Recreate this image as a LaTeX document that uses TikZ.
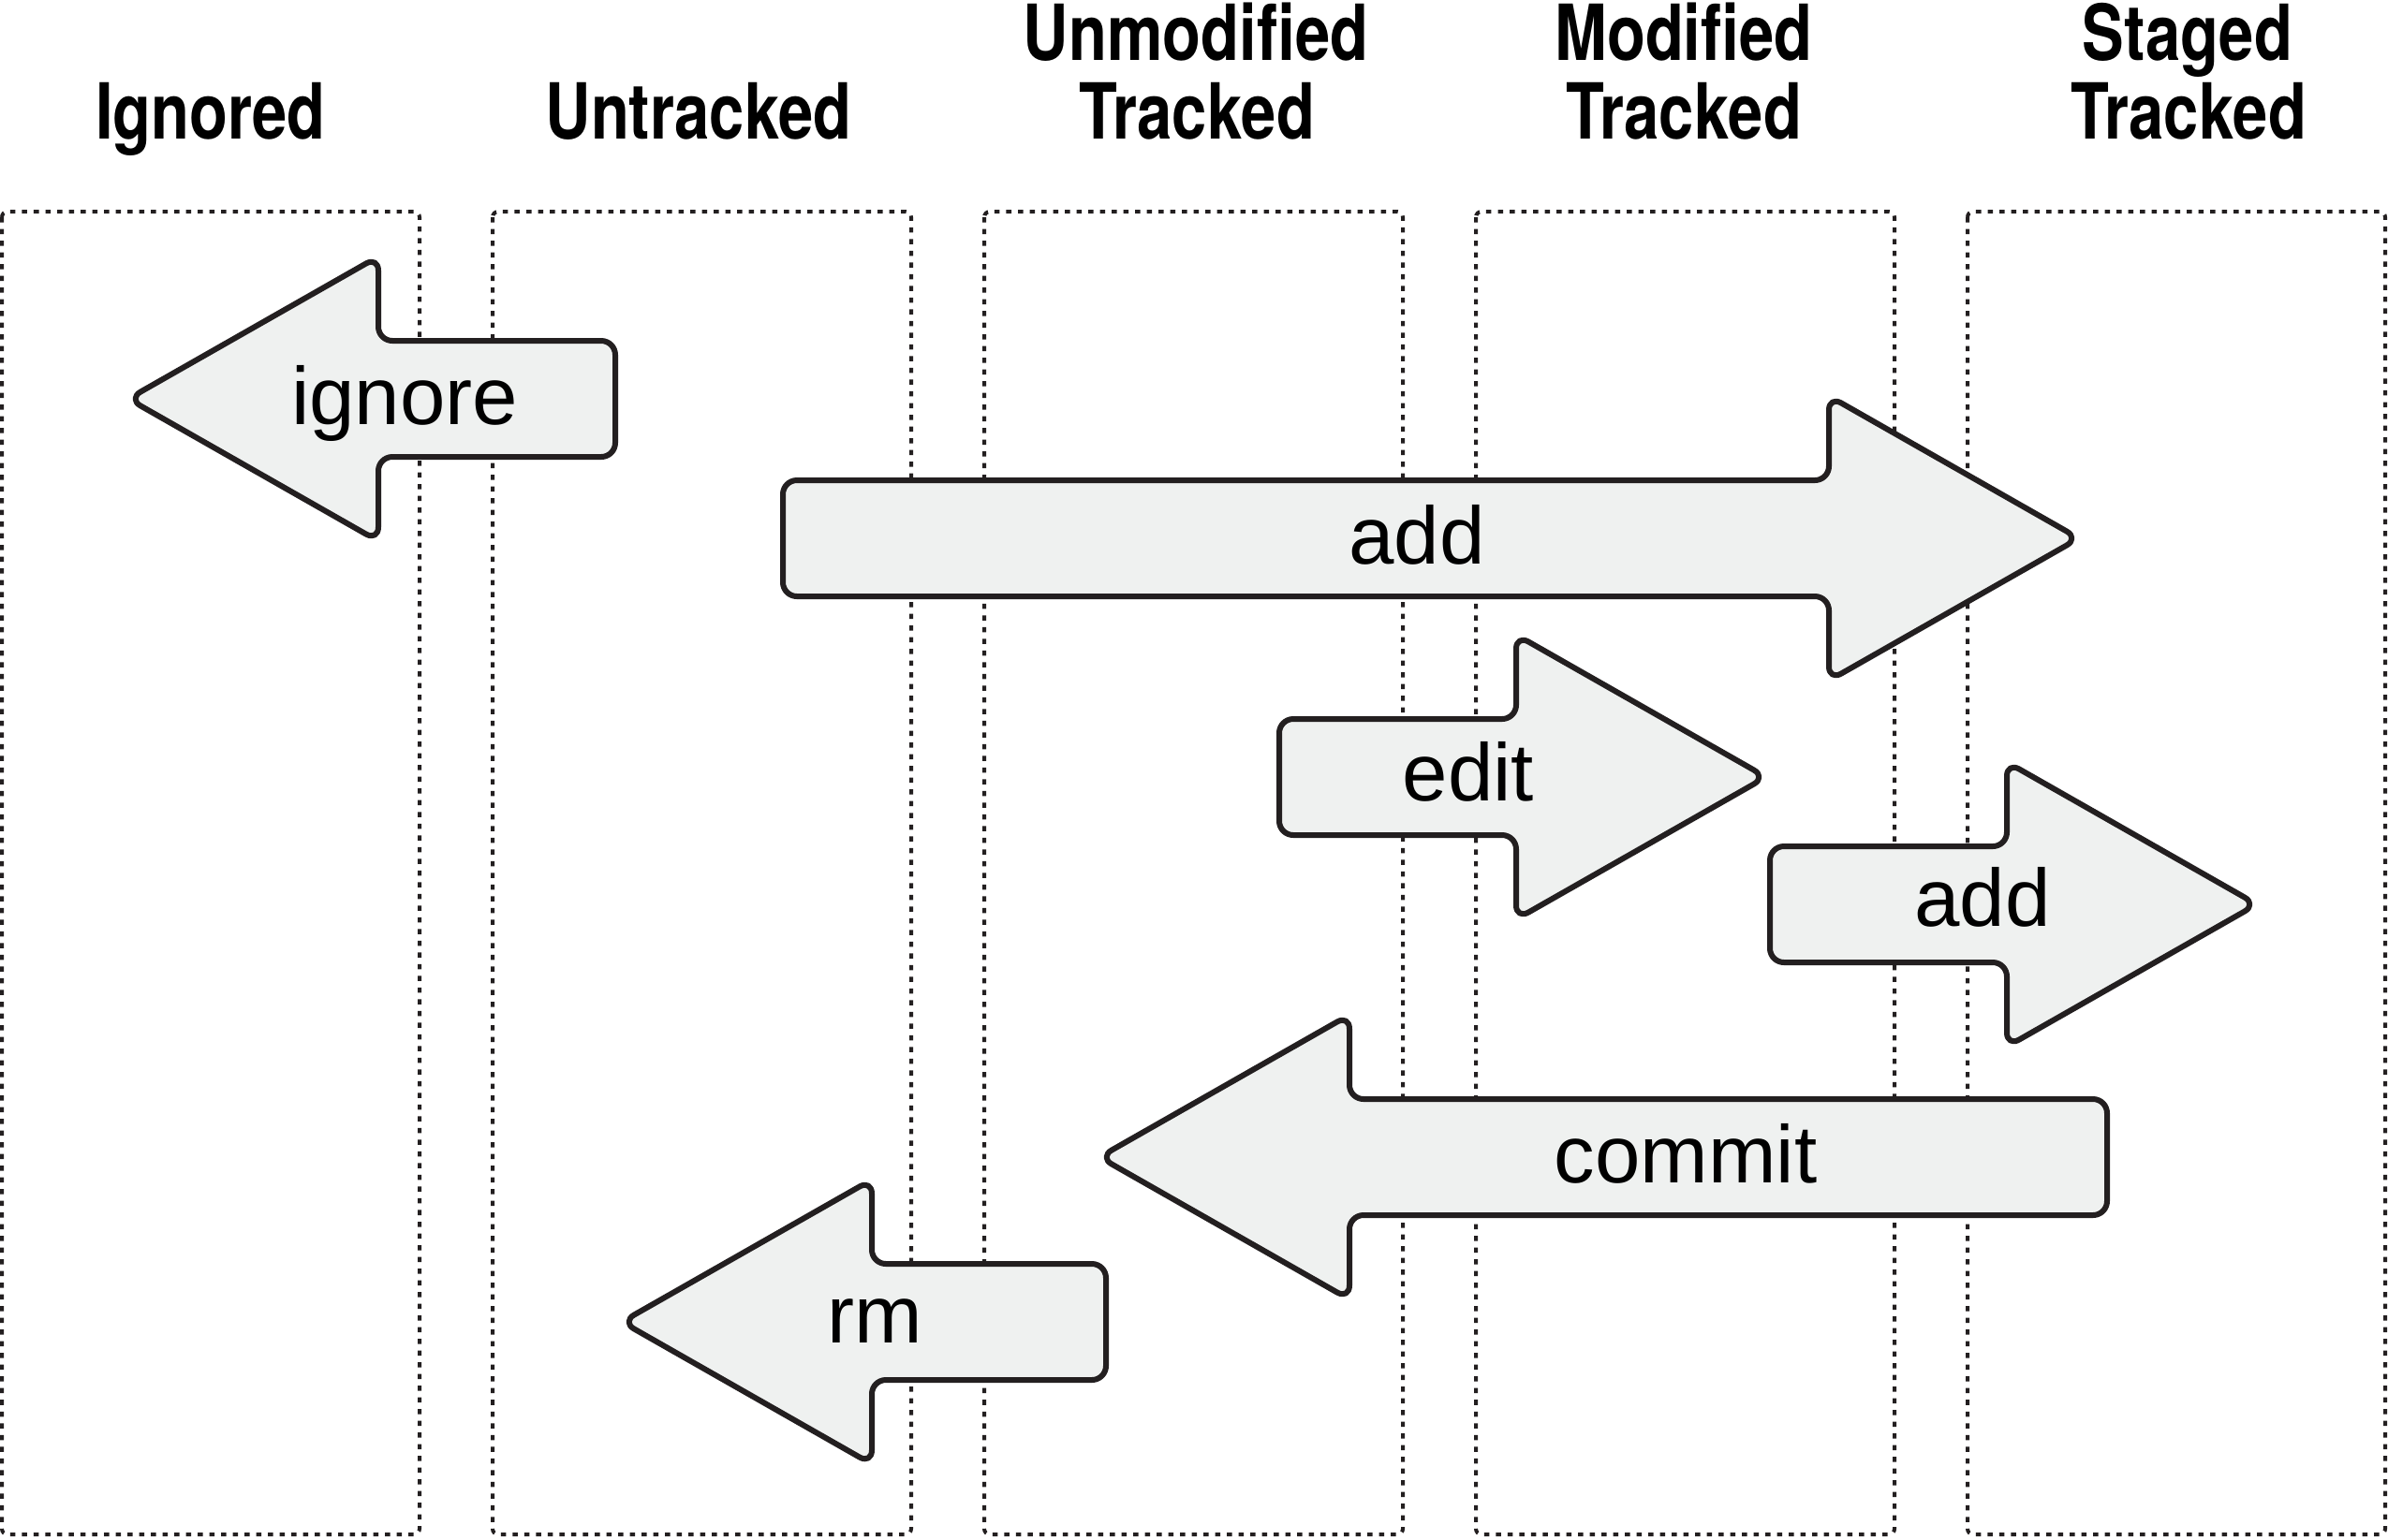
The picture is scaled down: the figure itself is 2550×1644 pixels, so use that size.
\documentclass[tikz,border=0pt]{standalone}
\usepackage{fontspec}
\setmainfont{Liberation Sans}
\newfontfamily\titlefont[FakeStretch=0.81]{TeX Gyre Heros}
\definecolor{arrowfill}{HTML}{EFF1F0}
\definecolor{arrowline}{HTML}{231F20}
\tikzset{
  colbox/.style={draw=arrowline, line width=0.04cm, dash pattern=on 0.055cm off 0.07cm, rounded corners=0.06cm},
  blockarrow/.style={draw=arrowline, fill=arrowfill, line width=0.06cm, line join=round, rounded corners=0.15cm},
  lbl/.style={font=\fontsize{24.75pt}{30pt}\selectfont, inner sep=0pt, anchor=base},
  ttl/.style={font=\titlefont\bfseries\fontsize{23.5pt}{28pt}\selectfont, inner sep=0pt, anchor=base}
}
\newcommand\rarr[3]{% left, tip, y
  \draw[blockarrow] (#1,#3-62) -- (#2-261,#3-62) -- (#2-261,#3-152) -- (#2+6,#3)
    -- (#2-261,#3+152) -- (#2-261,#3+62) -- (#1,#3+62) -- cycle;}
\newcommand\larr[3]{% tip, right, y
  \draw[blockarrow] (#2,#3-62) -- (#1+261,#3-62) -- (#1+261,#3-152) -- (#1-6,#3)
    -- (#1+261,#3+152) -- (#1+261,#3+62) -- (#2,#3+62) -- cycle;}
\begin{document}
\begin{tikzpicture}[x=0.01cm, y=-0.01cm]
\useasboundingbox (0,0) rectangle (2550,1644);
% column boxes
\draw[colbox] (2,226) rectangle (448,1639);
\draw[colbox] (526,226) rectangle (973,1639);
\draw[colbox] (1051,226) rectangle (1498,1639);
\draw[colbox] (1576,226) rectangle (2023,1639);
\draw[colbox] (2101,226) rectangle (2547,1639);
% titles
\node[ttl] (t1) at (225,148) {Ignored};
\node[ttl] (t2) at (746,148) {Untracked};
\node[ttl] (t3a) at (1277,64) {Unmodified};
\node[ttl] (t3b) at (1278,148) {Tracked};
\node[ttl] (t4a) at (1798,64) {Modified};
\node[ttl] (t4b) at (1798,148) {Tracked};
\node[ttl] (t5a) at (2336,64) {Staged};
\node[ttl] (t5b) at (2337,148) {Tracked};
% arrows
\larr{143}{657}{426}
\rarr{836}{2214}{575}
\rarr{1366}{1880}{830}
\rarr{1890}{2404}{966}
\larr{1180}{2250}{1236}
\larr{670}{1181}{1412}
% labels
\node[lbl] (ignoreL) at (432,453) {ignore};
\node[lbl] (addL) at (1513,602) {add};
\node[lbl] (editL) at (1568,855) {edit};
\node[lbl] (add2L) at (2117,989) {add};
\node[lbl] (commitL) at (1800,1263) {commit};
\node[lbl] (rmL) at (934,1434) {rm};
\end{tikzpicture}
\end{document}
